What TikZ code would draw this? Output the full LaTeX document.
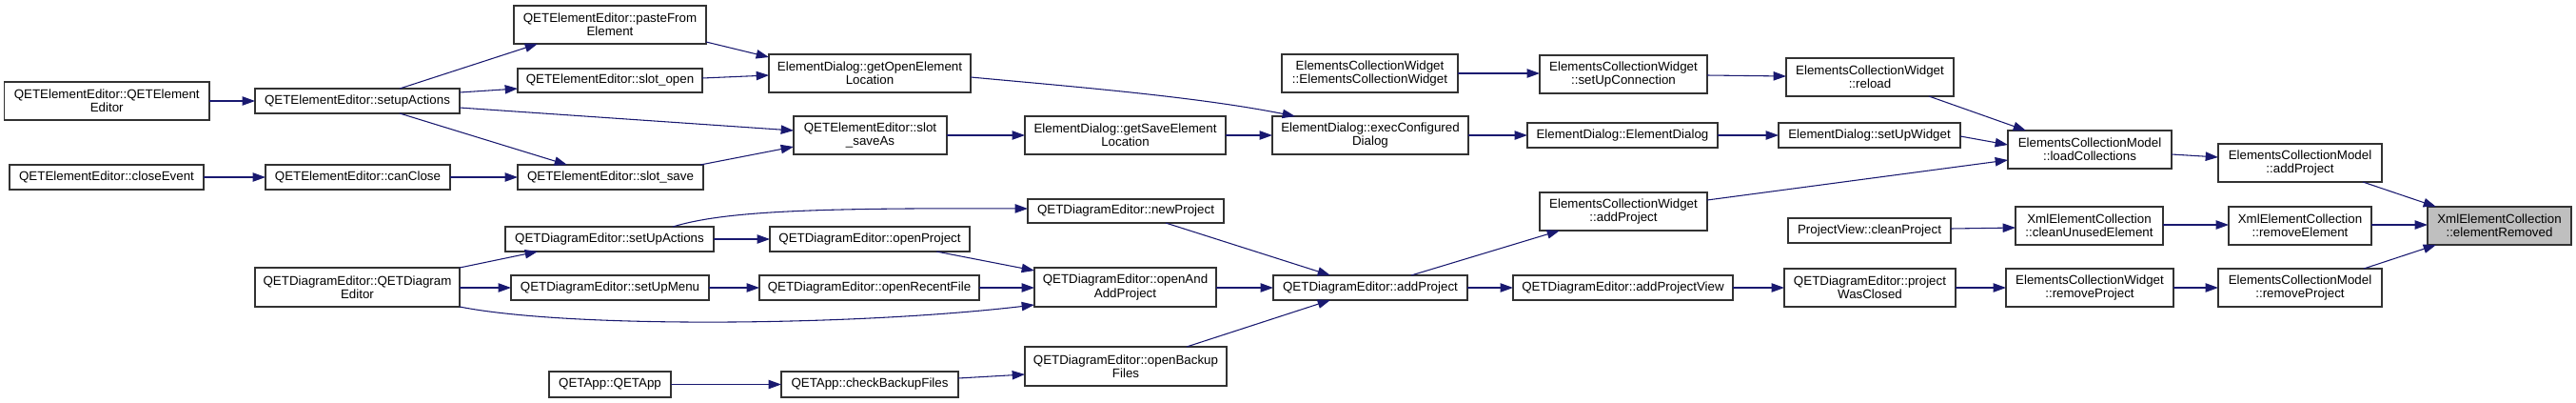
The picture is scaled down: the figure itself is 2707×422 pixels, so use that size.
\documentclass[tikz,border=0pt]{standalone}
\usepackage{fontspec}
\setmainfont{Liberation Sans}
\usetikzlibrary{arrows.meta}
\definecolor{edgeblue}{RGB}{25,25,112}
\definecolor{nodeborder}{RGB}{50,50,50}
\definecolor{rootfill}{RGB}{191,191,191}
\newcommand\gnode[7][]{\node[gbox,#1,minimum width={(#5-#3)*0.75pt},minimum height={(#6-#4)*0.75pt}] (#2) at ({(#3+#5)/2},{(#4+#6)/2}) {#7};}
\tikzset{
  gbox/.style={draw=nodeborder,fill=white,line width=0.8pt,rectangle,inner sep=0pt,outer sep=0pt,align=center,font=\fontsize{10}{10.6}\selectfont},
  rootbox/.style={fill=rootfill},
  e/.style={draw=edgeblue,line width=0.8pt,-{Triangle[length=10pt,width=7pt]}}
}
\begin{document}
\begin{tikzpicture}[x=0.75pt,y=-0.75pt]
\useasboundingbox[fill=white] (0,0) rectangle (2707,422);
% nodes
\gnode{qee}{4.5}{86}{220}{126}{QETElementEditor::QETElement\\Editor}
\gnode{seA}{268}{93}{483}{119}{QETElementEditor::setupActions}
\gnode{paste}{540}{6}{742}{46}{QETElementEditor::pasteFrom\\Element}
\gnode{sopen}{544}{72}{738}{97}{QETElementEditor::slot\_open}
\gnode{close}{10}{173}{214}{199}{QETElementEditor::closeEvent}
\gnode{canc}{279}{173}{473}{199}{QETElementEditor::canClose}
\gnode{ssave}{544}{173}{739}{199}{QETElementEditor::slot\_save}
\gnode{gOpen}{808}{57}{1020}{97}{ElementDialog::getOpenElement\\Location}
\gnode{sSaveAs}{834}{122}{995}{162}{QETElementEditor::slot\\\_saveAs}
\gnode{gSave}{1077}{122}{1288}{162}{ElementDialog::getSaveElement\\Location}
\gnode{execC}{1337}{122}{1543}{162}{ElementDialog::execConfigured\\Dialog}
\gnode{ecwC}{1347}{57}{1532}{97}{ElementsCollectionWidget\\::ElementsCollectionWidget}
\gnode{setUpC}{1618}{58}{1794}{98}{ElementsCollectionWidget\\::setUpConnection}
\gnode{reload}{1877}{61}{2053}{101}{ElementsCollectionWidget\\::reload}
\gnode{edED}{1605}{129}{1805}{155}{ElementDialog::ElementDialog}
\gnode{setUpW}{1869}{129}{2060}{155}{ElementDialog::setUpWidget}
\gnode{ecwAdd}{1618}{202}{1794}{242}{ElementsCollectionWidget\\::addProject}
\gnode{loadC}{2110}{137}{2282}{177}{ElementsCollectionModel\\::loadCollections}
\gnode{ecmAdd}{2331}{151}{2503}{191}{ElementsCollectionModel\\::addProject}
\gnode{cleanU}{2118}{217}{2273}{257}{XmlElementCollection\\::cleanUnusedElement}
\gnode{remEl}{2342}{217}{2492}{257}{XmlElementCollection\\::removeElement}
\gnode[rootbox]{root}{2551}{217}{2702}{257}{XmlElementCollection\\::elementRemoved}
\gnode{cleanP}{1879}{229}{2050}{255}{ProjectView::cleanProject}
\gnode{pwc}{1875}{282}{2055}{322}{QETDiagramEditor::project\\WasClosed}
\gnode{ecwRem}{2108}{282}{2284}{322}{ElementsCollectionWidget\\::removeProject}
\gnode{ecmRem}{2331}{282}{2503}{322}{ElementsCollectionModel\\::removeProject}
\gnode{qdeAdd}{1338}{289}{1542}{315}{QETDiagramEditor::addProject}
\gnode{addPV}{1590}{289}{1821}{315}{QETDiagramEditor::addProjectView}
\gnode{qde}{268}{281}{483}{322}{QETDiagramEditor::QETDiagram\\Editor}
\gnode{suAct}{531}{238}{750}{264}{QETDiagramEditor::setUpActions}
\gnode{suMenu}{537}{289}{745}{315}{QETDiagramEditor::setUpMenu}
\gnode{qapp}{577}{390}{705}{417}{QETApp::QETApp}
\gnode{newP}{1080}{209}{1286}{234}{QETDiagramEditor::newProject}
\gnode{openP}{809}{238}{1019}{264}{QETDiagramEditor::openProject}
\gnode{openR}{798}{289}{1029}{315}{QETDiagramEditor::openRecentFile}
\gnode{openAA}{1087}{281}{1278}{322}{QETDiagramEditor::openAnd\\AddProject}
\gnode{openB}{1077}{364}{1289}{405}{QETDiagramEditor::openBackup\\Files}
\gnode{checkB}{821}{390}{1007}{417}{QETApp::checkBackupFiles}
% edges
\draw[e] (qee.east |- 0,106) -- (seA.west |- 0,106);
\draw[e] (420,0 |- seA.north) -- (565,0 |- paste.south);
\draw[e] (seA.east |- 0,97) -- (sopen.west |- 0,93);
\draw[e] (seA.east |- 0,113) -- (sSaveAs.west |- 0,137);
\draw[e] (420,0 |- seA.south) -- (596,0 |- ssave.north);
\draw[e] (close) -- (canc);
\draw[e] (canc) -- (ssave);
\draw[e] (paste.east |- 0,44) -- (gOpen.west |- 0,60);
\draw[e] (sopen.east |- 0,82) -- (gOpen.west |- 0,79);
\draw[e] (736,0 |- ssave.north) -- (sSaveAs.west |- 0,154);
\draw[e] (sSaveAs) -- (gSave);
\draw[e] (gOpen.east |- 0,81) .. controls (1140,92) and (1260,102) .. (1361,0 |- execC.north);
\draw[e] (gSave) -- (execC);
\draw[e] (execC) -- (edED);
\draw[e] (edED) -- (setUpW);
\draw[e] (setUpW.east |- 0,143) -- (loadC.west |- 0,152);
\draw[e] (ecwC.east |- 0,77) -- (setUpC.west |- 0,77);
\draw[e] (setUpC.east |- 0,79) -- (reload.west |- 0,80);
\draw[e] (2027,0 |- reload.south) -- (2129,0 |- loadC.north);
\draw[e] (ecwAdd.east |- 0,210) -- (loadC.west |- 0,168);
\draw[e] (loadC.east |- 0,162) -- (ecmAdd.west |- 0,165);
\draw[e] (2483,0 |- ecmAdd.south) -- (2560,0 |- root.north);
\draw[e] (cleanP.east |- 0,240) -- (cleanU.west |- 0,239);
\draw[e] (cleanU.east |- 0,236) -- (remEl.west |- 0,236);
\draw[e] (remEl.east |- 0,236) -- (root.west |- 0,236);
\draw[e] (2484,0 |- ecmRem.north) -- (2560,0 |- root.south);
\draw[e] (pwc) -- (ecwRem);
\draw[e] (ecwRem) -- (ecmRem);
\draw[e] (addPV) -- (pwc);
\draw[e] (qdeAdd) -- (addPV);
\draw[e] (1483,0 |- qdeAdd.north) -- (1639,0 |- ecwAdd.south);
\draw[e] (1225,0 |- newP.south) -- (1398,0 |- qdeAdd.north);
\draw[e] (openAA.east |- 0,302) -- (qdeAdd.west |- 0,302);
\draw[e] (1247,0 |- openB.north) -- (1398,0 |- qdeAdd.south);
\draw[e] (qde.north east) -- (565,0 |- suAct.south);
\draw[e] (qde.east |- 0,302) -- (suMenu.west |- 0,302);
\draw[e] (qde.south east) .. controls (600,345) and (900,342) .. (openAA.west |- 0,320);
\draw[e] (707,0 |- suAct.north) .. controls (760,222) and (850,218) .. (newP.west |- 0,219);
\draw[e] (suAct) -- (openP);
\draw[e] (984,0 |- openP.south) -- (openAA.west |- 0,284);
\draw[e] (suMenu) -- (openR);
\draw[e] (openR.east |- 0,302) -- (openAA.west |- 0,302);
\draw[e] (qapp) -- (checkB);
\draw[e] (checkB.east |- 0,397) -- (openB.west |- 0,393);
\end{tikzpicture}
\end{document}
